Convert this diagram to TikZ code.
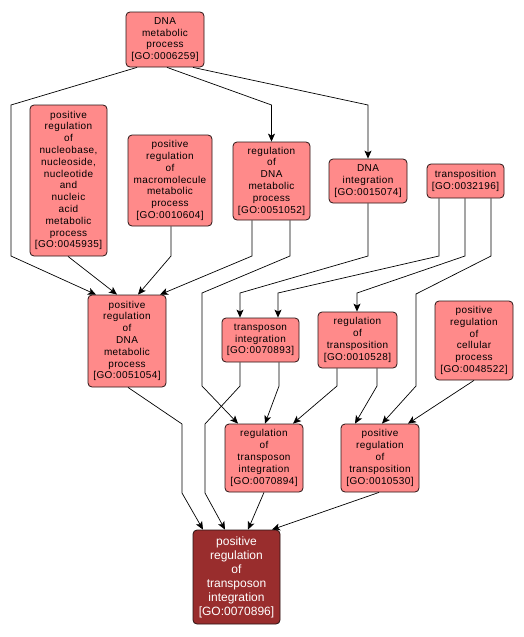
\documentclass[tikz,border=0pt]{standalone}
\usepackage{fontspec}
\setmainfont{Liberation Sans}
\newfontfamily\gofont[LetterSpace=4]{Liberation Sans}
\usetikzlibrary{arrows.meta}
\definecolor{gofill}{RGB}{255,138,138}
\definecolor{goborder}{RGB}{40,20,20}
\definecolor{gotarget}{RGB}{153,45,45}
\begin{document}
\begin{tikzpicture}[x=1pt,y=-1pt,
  gonode/.style={draw=goborder, fill=gofill, rounded corners=4pt, line width=0.8pt,
    inner sep=0pt, align=center, font=\gofont\fontsize{10}{11.8}\selectfont},
  target/.style={gonode, fill=gotarget, text=white, font=\fontsize{12}{14}\selectfont},
  arr/.style={line width=0.7pt, -{Stealth[length=8pt,width=7pt,inset=2pt]}}]
\fill[white] (0,0) rectangle (524,637);
\useasboundingbox (0,0) rectangle (524,637);

\node[gonode, minimum width=78pt, minimum height=55pt] (A) at (165,39.5)
  {DNA\\metabolic\\process\\{}[GO:0006259]};
\node[gonode, minimum width=77pt, minimum height=151pt] (B) at (68.5,180.5)
  {positive\\regulation\\of\\nucleobase,\\nucleoside,\\nucleotide\\and\\nucleic\\acid\\metabolic\\process\\{}[GO:0045935]};
\node[gonode, minimum width=84pt, minimum height=91pt] (C) at (170,180.5)
  {positive\\regulation\\of\\macromolecule\\metabolic\\process\\{}[GO:0010604]};
\node[gonode, minimum width=77pt, minimum height=78pt] (D) at (271.5,181)
  {regulation\\of\\DNA\\metabolic\\process\\{}[GO:0051052]};
\node[gonode, minimum width=78pt, minimum height=44pt] (E) at (368,181)
  {DNA\\integration\\{}[GO:0015074]};
\node[gonode, minimum width=77pt, minimum height=34pt] (F) at (465.5,181)
  {transposition\\{}[GO:0032196]};
\node[gonode, minimum width=78pt, minimum height=92pt] (G) at (127,341)
  {positive\\regulation\\of\\DNA\\metabolic\\process\\{}[GO:0051054]};
\node[gonode, minimum width=77pt, minimum height=44pt] (H) at (260.5,340)
  {transposon\\integration\\{}[GO:0070893]};
\node[gonode, minimum width=79pt, minimum height=56pt] (I) at (357.5,340)
  {regulation\\of\\transposition\\{}[GO:0010528]};
\node[gonode, minimum width=78pt, minimum height=79pt] (J) at (474,340.5)
  {positive\\regulation\\of\\cellular\\process\\{}[GO:0048522]};
\node[gonode, minimum width=78pt, minimum height=68pt] (K) at (264,458)
  {regulation\\of\\transposon\\integration\\{}[GO:0070894]};
\node[gonode, minimum width=78pt, minimum height=68pt] (L) at (380,458)
  {positive\\regulation\\of\\transposition\\{}[GO:0010530]};
\node[target, minimum width=87pt, minimum height=94pt] (M) at (236.5,577)
  {positive\\regulation\\of\\transposon\\integration\\{}[GO:0070896]};

% edges
\draw[arr] ([xshift=-28pt]A.south) -- (11,105) -- (11,256) -- ([xshift=-31pt]G.north);
\draw[arr] ([xshift=-0.5pt]B.south) -- ([xshift=-10pt]G.north);
\draw[arr] ([xshift=1pt]C.south) -- (171,256) -- ([xshift=11pt]G.north);
\draw[arr] ([xshift=-19.5pt]D.south) -- (252,256) -- ([xshift=33pt]G.north);
\draw[arr] ([xshift=2pt]A.south) -- (271.5,105) -- (D.north);
\draw[arr] ([xshift=28pt]A.south) -- (368,105) -- (E.north);
\draw[arr] ([xshift=18.5pt]D.south) -- (290,256) -- (202,293) -- (202,386) -- ([xshift=-26pt]K.north);
\draw[arr] (E.south) -- (368,256) -- (240,293) -- ([xshift=-20.5pt]H.north);
\draw[arr] ([xshift=-26.5pt]F.south) -- (439,256) -- (278,293) -- ([xshift=17.5pt]H.north);
\draw[arr] ([xshift=-0.5pt]F.south) -- (465,256) -- (357,293) -- ([xshift=-0.5pt]I.north);
\draw[arr] ([xshift=25.5pt]F.south) -- (491,256) -- (416,294) -- (416,386) -- ([xshift=2pt]L.north);
\draw[arr] ([xshift=1pt]G.south) -- (182,424) -- (182,493) -- ([xshift=-33.5pt]M.north);
\draw[arr] ([xshift=-20.5pt]H.south) -- (240,386) -- (205,424) -- (205,493) -- ([xshift=-11.5pt]M.north);
\draw[arr] ([xshift=18.5pt]H.south) -- (279,386) -- ([xshift=1pt]K.north);
\draw[arr] ([xshift=-20.5pt]I.south) -- (337,386) -- ([xshift=29pt]K.north);
\draw[arr] ([xshift=19.5pt]I.south) -- (377,386) -- ([xshift=-25pt]L.north);
\draw[arr] (J.south) -- ([xshift=28pt]L.north);
\draw[arr] (K.south) -- ([xshift=11.5pt]M.north);
\draw[arr] ([xshift=-1pt]L.south) -- ([xshift=35.5pt]M.north);
\end{tikzpicture}
\end{document}
